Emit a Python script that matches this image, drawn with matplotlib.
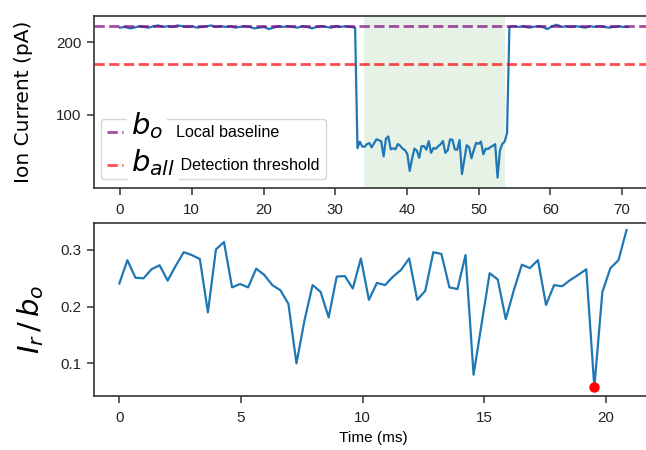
import numpy as np
import matplotlib
matplotlib.use("Agg")
import matplotlib.pyplot as plt
from matplotlib import font_manager

# ---------------- data ----------------
dt_ms = 0.331                      # sample spacing (ms)
event_start_ms = 33.1              # start of the blockade in the raw trace
local_baseline = 222.0             # b_o (pA)
detection_threshold = 170.0        # b_all (pA)
shade_start, shade_end = 34.07, 53.7

# normalized residual current I_r / b_o during the event (64 samples)
ir_over_bo = [0.241, 0.282, 0.251, 0.250, 0.266, 0.273, 0.246, 0.272, 0.296, 0.291,
              0.284, 0.190, 0.301, 0.314, 0.234, 0.240, 0.234, 0.267, 0.256, 0.238,
              0.229, 0.205, 0.100, 0.176, 0.238, 0.226, 0.181, 0.253, 0.254, 0.232,
              0.285, 0.212, 0.242, 0.238, 0.253, 0.265, 0.285, 0.212, 0.228, 0.296,
              0.293, 0.234, 0.231, 0.291, 0.080, 0.170, 0.259, 0.248, 0.178, 0.229,
              0.274, 0.268, 0.282, 0.203, 0.238, 0.236, 0.247, 0.256, 0.266, 0.058,
              0.226, 0.268, 0.282, 0.335]

# open-pore current before and after the event (pA)
pre_baseline = [220, 221, 219, 220, 222, 221, 220, 222, 223, 221, 222, 221, 223, 222, 221,
                222, 220, 221, 222, 223, 221, 222, 221, 222, 220, 221, 222, 221, 219, 220,
                221, 218, 220, 222, 221, 222, 221, 220, 222, 221, 219, 221, 222, 221, 220,
                222, 221, 222, 221, 220]
post_baseline = [221, 222, 221, 222, 220, 221, 222, 221, 218, 222, 224, 221, 222, 221,
                 222, 221, 220, 222, 221, 222, 221, 220, 221, 222, 221, 221]
pre_end_ms = 32.77
post_start_ms, post_end_ms = 54.28, 70.83

top_xticks = [0, 10, 20, 30, 40, 50, 60, 70]
top_yticks = [100, 200]
bot_xticks = [0, 5, 10, 15, 20]
bot_yticks = [0.1, 0.2, 0.3]

# ---------------- fonts ----------------
names = {f.name for f in font_manager.fontManager.ttflist}
if 'Liberation Sans Narrow' in names:
    small_font, scale = 'Liberation Sans Narrow', 1.0
else:
    small_font, scale = 'Liberation Sans', 0.86
plt.rcParams['font.family'] = [small_font, 'DejaVu Sans']
plt.rcParams['mathtext.fontset'] = 'dejavusans'

tick_fs = 12.7 * scale
legend_fs = 13.5 * scale
xlabel_fs = 12.9 * scale

# ---------------- build series ----------------
ir = np.array(ir_over_bo)
event_t = np.arange(len(ir)) * dt_ms
pre_t = np.linspace(0, pre_end_ms, len(pre_baseline))
post_t = np.linspace(post_start_ms, post_end_ms, len(post_baseline))
top_t = np.concatenate([pre_t, event_start_ms + event_t, post_t])
top_i = np.concatenate([pre_baseline, ir * local_baseline, post_baseline])

blue = '#1f77b4'
spine_c = '#333333'

fig = plt.figure(figsize=(6.46, 4.50), dpi=100)
ax1 = fig.add_axes([94 / 646, 1 - 188 / 450, (653 - 94) / 646, (188 - 15.7) / 450])
ax2 = fig.add_axes([94.3 / 646, 1 - 395.7 / 450, (652 - 94.3) / 646, (395.7 - 223.3) / 450])

# ---- top panel ----
ax1.axvspan(shade_start, shade_end, color='green', alpha=0.1, lw=0, zorder=0)
ax1.plot(top_t, top_i, color=blue, lw=1.6, zorder=2)
h1 = ax1.axhline(local_baseline, color='purple', alpha=0.7, ls='--', lw=2, zorder=3,
                 label='Local baseline')
h2 = ax1.axhline(detection_threshold, color='red', alpha=0.7, ls='--', lw=2, zorder=3,
                 label=' Detection threshold')
ax1.set_xlim(-3.63, 74.3)
ax1.set_ylim(-1.5, 236.5)
ax1.set_xticks(top_xticks)
ax1.set_yticks(top_yticks)
ax1.set_ylabel('Ion Current (pA)', fontsize=14.5, family=['DejaVu Sans'])
ax1.yaxis.set_label_coords((33 - 94) / 559, 0.5)

em_px = legend_fs * 100 / 72
leg = ax1.legend(handles=[h1, h2], loc='lower left',
                 bbox_to_anchor=((100.7 - 94) / 559, (188 - 179.3) / 172.3),
                 borderaxespad=0, fontsize=legend_fs,
                 handlelength=16.6 / em_px, handletextpad=53.0 / em_px,
                 labelspacing=(35 - 1.05 * em_px) / em_px, borderpad=6.0 / em_px,
                 frameon=True, framealpha=0.8, edgecolor='0.8')

fig.text(131 / 646, 1 - 126 / 450, r'$b_o$', fontsize=21, ha='left', va='center',
         bbox=dict(facecolor='white', edgecolor='none', pad=3))
fig.text(131 / 646, 1 - 163 / 450, r'$b_{all}$', fontsize=21, ha='left', va='center',
         bbox=dict(facecolor='white', edgecolor='none', pad=2.5))

# ---- bottom panel ----
ax2.plot(event_t, ir, color=blue, lw=1.6, zorder=2)
imin = int(np.argmin(ir))
ax2.plot(event_t[imin], ir[imin], 'o', color='red', ms=6.5, zorder=3)
ax2.set_xlim(-1.03, 21.9)
ax2.set_ylim(0.043, 0.347)
ax2.set_xticks(bot_xticks)
ax2.set_yticks(bot_yticks)
ax2.set_xlabel('Time (ms)', fontsize=xlabel_fs, labelpad=4)
ax2.set_ylabel(r'$I_r\,/\,b_o$', fontsize=21)
ax2.yaxis.set_label_coords((46 - 94.3) / 557.7, 0.44)

for ax in (ax1, ax2):
    for s in ax.spines.values():
        s.set_color(spine_c)
        s.set_linewidth(1.2)
    ax.tick_params(axis='both', which='major', direction='out', length=5, width=1.1,
                   color=spine_c, labelsize=tick_fs, labelcolor='#222222')
    ax.tick_params(axis='x', pad=6)
    ax.tick_params(axis='y', pad=4)

fig.savefig('out.png', dpi=100)
